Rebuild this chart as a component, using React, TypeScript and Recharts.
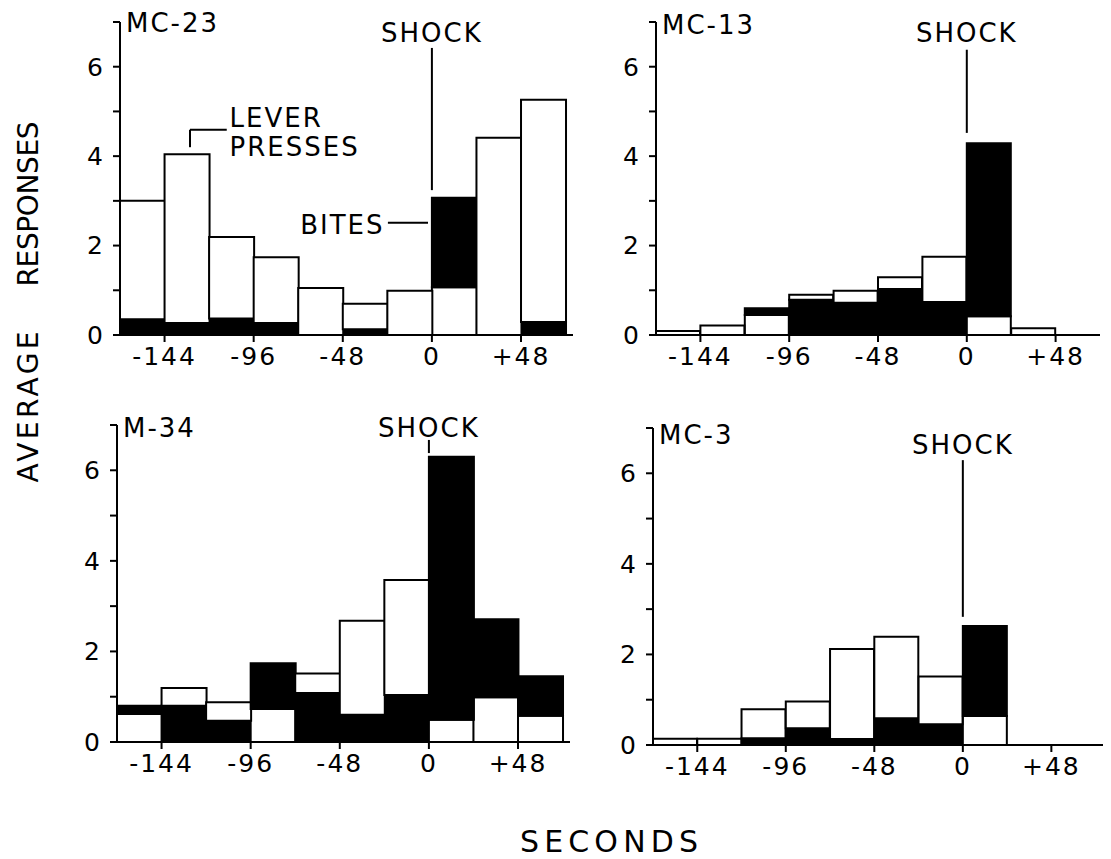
import React from 'react'
import { BarChart, Bar, Cell, XAxis, YAxis, ReferenceLine, ReferenceDot } from 'recharts'

// bin centres, 24 s bins from -168 to +72
const BIN_CENTERS = [-156, -132, -108, -84, -60, -36, -12, 12, 36, 60]
const X_TICKS = [-144, -96, -48, 0, 48]
const Y_TICKS = [0, 1, 2, 3, 4, 5, 6, 7]

// MC-23
const MC23_LEVER = [3.0, 4.04, 2.19, 1.74, 1.05, 0.7, 0.99, 1.07, 4.41, 5.26]
const MC23_BITES = [0.35, 0.27, 0.37, 0.27, 0, 0.13, 0, 3.07, 0, 0.29]
// MC-13
const MC13_LEVER = [0.09, 0.21, 0.45, 0.9, 0.99, 1.29, 1.75, 0.42, 0.15, 0]
const MC13_BITES = [0, 0, 0.6, 0.79, 0.72, 1.03, 0.74, 4.29, 0, 0]
// M-34
const M34_LEVER = [0.62, 1.19, 0.88, 0.73, 1.51, 2.68, 3.58, 0.49, 0.99, 0.58]
const M34_BITES = [0.8, 0.8, 0.47, 1.74, 1.08, 0.6, 1.04, 6.3, 2.71, 1.45]
// MC-3
const MC3_LEVER = [0.14, 0.14, 0.79, 0.96, 2.12, 2.39, 1.51, 0.64, 0, 0]
const MC3_BITES = [0, 0, 0.15, 0.37, 0.13, 0.59, 0.46, 2.63, 0, 0]

const INK = '#000'
const PAPER = '#fff'
const TOP_PAD = 30

// both histograms start at zero, the shorter one in front -> stack min + (max - min)
function buildRows(lever: number[], bites: number[]) {
  return BIN_CENTERS.map((x, i) => {
    const lo = Math.min(lever[i], bites[i])
    const hi = Math.max(lever[i], bites[i])
    const biteOnTop = lever[i] < bites[i]
    return {
      x,
      lower: lo,
      upper: hi - lo,
      lowerFill: biteOnTop ? PAPER : INK,
      upperFill: biteOnTop ? INK : PAPER,
    }
  })
}

const textLabel = (value: string, position: any, fontSize = 25, offset = 0) => ({
  value,
  position,
  offset,
  fill: INK,
  fontSize,
})

const seg = (x1: number, y1: number, x2: number, y2: number, key: string) => (
  <ReferenceLine
    key={key}
    segment={[{ x: x1, y: y1 }, { x: x2, y: y2 }]}
    stroke={INK}
    strokeWidth={2}
    ifOverflow="visible"
  />
)

const note = (x: number, y: number, label: any, key: string) => (
  <ReferenceDot key={key} x={x} y={y} r={0} fill="none" stroke="none" ifOverflow="visible" label={label} />
)

interface PanelProps {
  name: string
  nameY: number
  lever: number[]
  bites: number[]
  left: number
  top: number
  plotW: number
  plotH: number
  xMax: number
  shockY: number
  shockLine: [number, number]
  extra?: React.ReactNode[]
}

function Panel({ name, nameY, lever, bites, left, top, plotW, plotH, xMax, shockY, shockLine, extra = [] }: PanelProps) {
  const rows = buildRows(lever, bites)
  return (
    <div style={{ position: 'absolute', left: left - 60, top: top - TOP_PAD }}>
      <BarChart
        width={60 + plotW + 8}
        height={TOP_PAD + plotH + 45}
        data={rows}
        margin={{ top: TOP_PAD, right: 8, left: 0, bottom: 0 }}
        barCategoryGap={0}
        barGap={0}
      >
        <XAxis
          dataKey="x"
          type="number"
          domain={[-168, xMax]}
          ticks={X_TICKS}
          interval={0}
          allowDataOverflow
          height={45}
          tickFormatter={(v: number) => (v > 0 ? `+${v}` : String(v))}
          axisLine={{ stroke: INK, strokeWidth: 2 }}
          tickLine={{ stroke: INK, strokeWidth: 2 }}
          tick={{ fill: INK, fontSize: 25 }}
          tickSize={7}
          tickMargin={5}
        />
        <YAxis
          type="number"
          domain={[0, 7]}
          ticks={Y_TICKS}
          interval={0}
          allowDataOverflow
          width={60}
          tickFormatter={(v: number) => (v % 2 === 0 && v < 7 ? String(v) : '')}
          axisLine={{ stroke: INK, strokeWidth: 2 }}
          tickLine={{ stroke: INK, strokeWidth: 2 }}
          tick={{ fill: INK, fontSize: 25 }}
          tickSize={7}
          tickMargin={8}
        />
        <Bar dataKey="lower" stackId="h" isAnimationActive={false}>
          {rows.map((r, i) => (
            <Cell key={i} fill={r.lowerFill} stroke={INK} strokeWidth={2} />
          ))}
        </Bar>
        <Bar dataKey="upper" stackId="h" isAnimationActive={false}>
          {rows.map((r, i) => (
            <Cell key={i} fill={r.upperFill} stroke={INK} strokeWidth={2} />
          ))}
        </Bar>
        {note(-168, nameY, textLabel(name, 'right', 26, 6), 'name')}
        {note(0, shockY, textLabel('SHOCK', 'center', 26), 'shock')}
        {seg(0, shockLine[0], 0, shockLine[1], 'shockline')}
        {extra}
      </BarChart>
    </div>
  )
}

export default function App() {
  const mc23Extra = [
    note(-109, 4.85, textLabel('LEVER', 'right', 26), 'lever1'),
    note(-109, 4.21, textLabel('PRESSES', 'right', 26), 'lever2'),
    seg(-130.3, 4.2, -130.3, 4.59, 'br1'),
    seg(-130.3, 4.59, -110.5, 4.59, 'br2'),
    note(-25.5, 2.47, textLabel('BITES', 'left', 26), 'bites'),
    seg(-23.7, 2.51, -2.1, 2.51, 'biteline'),
  ]

  return (
    <div
      style={{
        position: 'absolute',
        left: 0,
        top: 0,
        width: 1111,
        height: 859,
        background: '#fff',
        fontFamily: '"DejaVu Sans", sans-serif',
        letterSpacing: '2px',
      }}
    >
      <Panel name="MC-23" nameY={6.98} lever={MC23_LEVER} bites={MC23_BITES} left={120} top={22} plotW={453} plotH={313} xMax={76} shockY={6.76} shockLine={[6.42, 3.24]} extra={mc23Extra} />
      <Panel name="MC-13" nameY={6.94} lever={MC13_LEVER} bites={MC13_BITES} left={656} top={22} plotW={444} plotH={313} xMax={72} shockY={6.76} shockLine={[6.38, 4.52]} />
      <Panel name="M-34" nameY={6.93} lever={M34_LEVER} bites={M34_BITES} left={117} top={425} plotW={453} plotH={317} xMax={76} shockY={6.93} shockLine={[6.67, 6.38]} />
      <Panel name="MC-3" nameY={6.84} lever={MC3_LEVER} bites={MC3_BITES} left={653} top={428} plotW={450} plotH={317} xMax={76} shockY={6.62} shockLine={[6.29, 2.83]} />

      <svg width={1111} height={859} style={{ position: 'absolute', left: 0, top: 0, pointerEvents: 'none' }}>
        <text x={28} y={203} transform="rotate(-90, 28, 203)" textAnchor="middle" dominantBaseline="central" fontSize={28} textLength={167} lengthAdjust="spacing" fill={INK}>
          RESPONSES
        </text>
        <text x={28} y={406} transform="rotate(-90, 28, 406)" textAnchor="middle" dominantBaseline="central" fontSize={28} textLength={153} lengthAdjust="spacing" fill={INK}>
          AVERAGE
        </text>
        <text x={610} y={852} textAnchor="middle" fontSize={30} textLength={180} lengthAdjust="spacing" fill={INK}>
          SECONDS
        </text>
      </svg>
    </div>
  )
}
